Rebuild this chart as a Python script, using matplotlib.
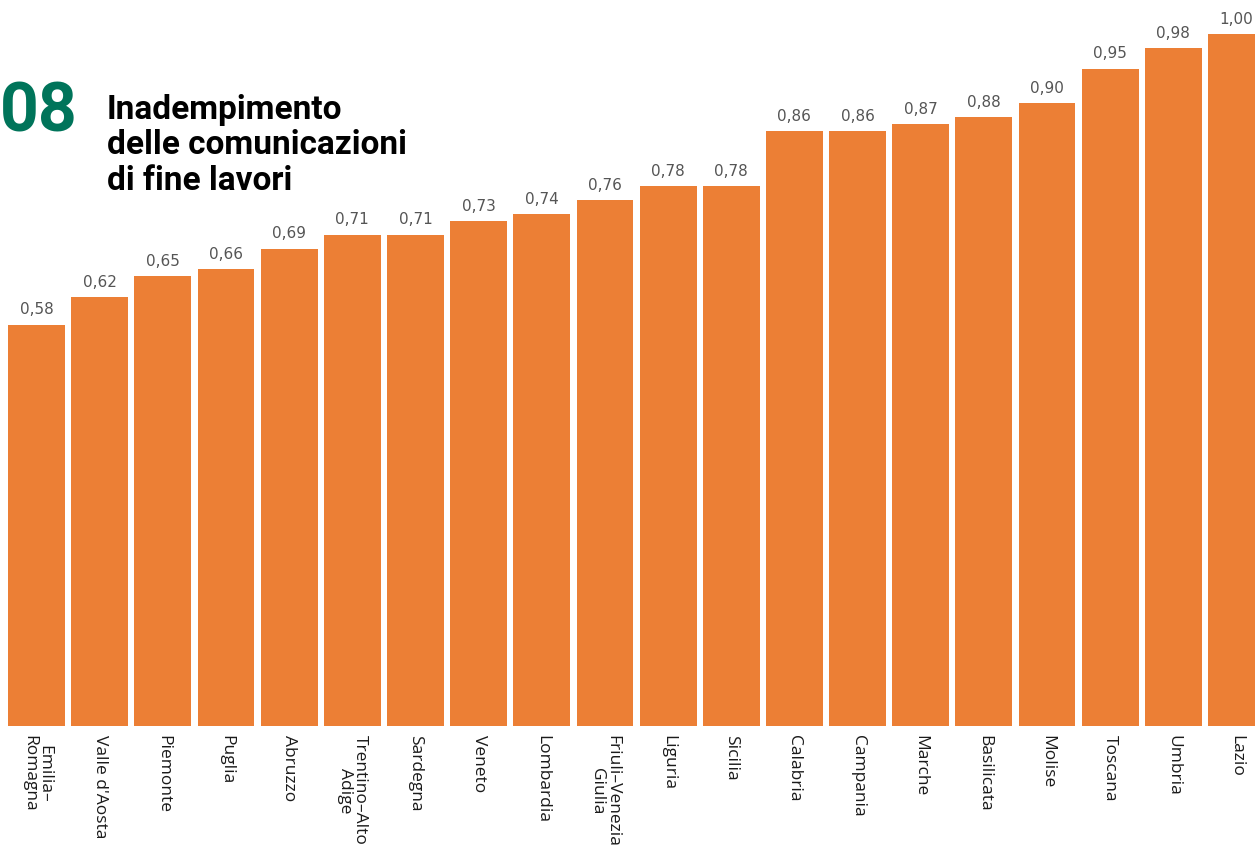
import numpy as np
import matplotlib.pyplot as plt

regioni = ['Emilia–\nRomagna', "Valle d'Aosta", 'Piemonte', 'Puglia', 'Abruzzo',
           'Trentino–Alto\nAdige', 'Sardegna', 'Veneto', 'Lombardia',
           'Friuli–Venezia\nGiulia', 'Liguria', 'Sicilia', 'Calabria', 'Campania',
           'Marche', 'Basilicata', 'Molise', 'Toscana', 'Umbria', 'Lazio']
valori = [0.58, 0.62, 0.65, 0.66, 0.69, 0.71, 0.71, 0.73, 0.74, 0.76,
          0.78, 0.78, 0.86, 0.86, 0.87, 0.88, 0.90, 0.95, 0.98, 1.00]

arancio = '#EC7F35'
verde = '#00745A'

W, H = 1255, 854
fig = plt.figure(figsize=(W / 100, H / 100), dpi=100)
base = 727
ax = fig.add_axes([0, (H - base) / H, 1, base / H])

passo = 63.16
x0 = 36.5
x = np.arange(len(valori))
ax.bar(x, valori, width=0.9, color=arancio, linewidth=0)
ax.set_xlim(-x0 / passo, (W - x0) / passo)
ax.set_ylim(0, base / 692)
ax.axis('off')

# etichette dei valori sopra le barre
for xi, v in zip(x, valori):
    ax.text(xi, v + 0.012, f'{v:.2f}'.replace('.', ','), ha='center', va='bottom',
            fontsize=11, color='#555555', family='DejaVu Sans')

# nomi delle regioni ruotati sotto le barre
for xi, r in zip(x, regioni):
    ax.text(xi, -0.012, r, rotation=270, ha='center', va='top',
            multialignment='center', fontsize=12.5, color='#1a1a1a',
            family='Open Sans', linespacing=0.95)

fig.text(0 / W, 1 - 113 / H, '08', fontsize=49, fontweight='bold', color=verde,
         family='Roboto', va='center', ha='left')
fig.text(107 / W, 1 - 94 / H, 'Inadempimento\ndelle comunicazioni\ndi fine lavori',
         fontsize=24, fontweight='bold', color='black', family='Roboto',
         va='top', ha='left', linespacing=1.14)

fig.savefig('out.png', dpi=100, facecolor='white')
